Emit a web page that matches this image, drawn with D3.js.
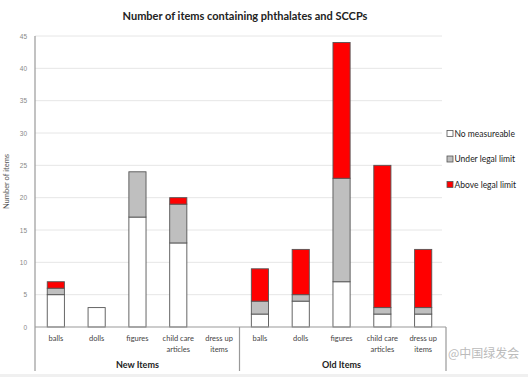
<body style="margin:0;background:#fff"></body>

<script type='text/javascript' src='https://d3js.org/d3.v7.min.js'></script>
<script>
    var width = 528, height = 377;

    // categories and series
    var items = ["balls", "dolls", "figures", "child care articles", "dress up items"];
    var groups = ["New Items", "Old Items"];
    var keys = ["none", "under", "above"];
    var legendLabels = ["No measureable", "Under legal limit", "Above legal limit"];
    var noneVals  = [5, 3, 17, 13, 0, 2, 4, 7, 2, 2];
    var underVals = [1, 0, 7, 6, 0, 2, 1, 16, 1, 1];
    var aboveVals = [1, 0, 0, 1, 0, 5, 7, 21, 22, 9];
    var yTicks = [0, 5, 10, 15, 20, 25, 30, 35, 40, 45];
    var colors = ["#ffffff", "#bfbfbf", "#ff0000"];

    var data = noneVals.map(function (v, i) {
        return {
            id: i,
            item: items[i % 5],
            group: groups[Math.floor(i / 5)],
            none: v, under: underVals[i], above: aboveVals[i]
        };
    });

    var mLeft = 35, mRight = 444, mTop = 36, mBottom = 327;

    var svg = d3.select('body').append('svg').attr('width', width).attr('height', height)
        .style('font-family', 'Lato, "Open Sans", sans-serif');

    var x = d3.scaleBand().domain(data.map(function (d) { return d.id; }))
        .range([mLeft, mRight]).paddingInner(0.58).paddingOuter(0.3);
    var y = d3.scaleLinear().domain([0, 45]).range([mBottom, mTop]);

    // gridlines
    svg.append('g').selectAll('line').data(yTicks.slice(1)).join('line')
        .attr('x1', mLeft).attr('x2', mRight - 2)
        .attr('y1', function (d) { return y(d); }).attr('y2', function (d) { return y(d); })
        .attr('stroke', '#e6e6e6').attr('stroke-width', 1);

    // y axis
    var yAxis = svg.append('g').attr('transform', 'translate(' + mLeft + ',0)')
        .call(d3.axisLeft(y).tickValues(yTicks).tickSize(0).tickPadding(8));
    yAxis.select('.domain').remove();
    yAxis.selectAll('text').attr('fill', '#888').style('font-size', '6.5px');

    svg.append('line').attr('x1', mLeft).attr('x2', mLeft).attr('y1', mTop).attr('y2', 371)
        .attr('stroke', '#999').attr('stroke-width', 1.2);

    // stacked bars
    var series = d3.stack().keys(keys)(data);
    svg.append('g').selectAll('g').data(series).join('g')
        .attr('fill', function (d, i) { return colors[i]; })
        .selectAll('rect').data(function (d) { return d.filter(function (p) { return p[1] > p[0]; }); })
        .join('rect')
        .attr('x', function (d) { return x(d.data.id); })
        .attr('width', x.bandwidth())
        .attr('y', function (d) { return y(d[1]); })
        .attr('height', function (d) { return y(d[0]) - y(d[1]); })
        .attr('stroke', '#555').attr('stroke-width', 0.9);

    // x axis baseline
    svg.append('line').attr('x1', mLeft).attr('x2', mRight + 2).attr('y1', mBottom).attr('y2', mBottom)
        .attr('stroke', '#999').attr('stroke-width', 1.2);

    // group separators
    var sep = (x(4) + x.bandwidth() + x(5)) / 2;
    [sep, mRight + 2].forEach(function (sx) {
        svg.append('line').attr('x1', sx).attr('x2', sx).attr('y1', mBottom).attr('y2', 371)
            .attr('stroke', '#999').attr('stroke-width', 1.2);
    });

    // faint bottom edge of the picture
    svg.append('rect').attr('x', 0).attr('y', 374).attr('width', width).attr('height', 3).attr('fill', '#f0f0f0');

    // category labels
    var labelLines = { "child care articles": ["child care", "articles"], "dress up items": ["dress up", "items"] };
    var cat = svg.append('g').selectAll('text').data(data).join('text')
        .attr('text-anchor', 'middle').attr('fill', '#444').style('font-size', '7.5px')
        .attr('x', function (d) { return x(d.id) + x.bandwidth() / 2; })
        .attr('y', 341);
    cat.selectAll('tspan').data(function (d) { return labelLines[d.item] || [d.item]; }).join('tspan')
        .attr('x', function () { var p = d3.select(this.parentNode).datum(); return x(p.id) + x.bandwidth() / 2; })
        .attr('dy', function (d, i) { return i ? 10.5 : 0; })
        .text(function (d) { return d; });

    // group labels
    svg.append('g').selectAll('text').data(groups).join('text')
        .attr('text-anchor', 'middle').attr('font-weight', 'bold').attr('fill', '#222').style('font-size', '9px')
        .attr('x', function (d, i) { return (x(i * 5) + x(i * 5 + 4) + x.bandwidth()) / 2; })
        .attr('y', 368)
        .text(function (d) { return d; });

    // title
    svg.append('text').attr('x', 245).attr('y', 20).attr('text-anchor', 'middle')
        .attr('font-weight', 'bold').attr('fill', '#222').style('font-size', '11px')
        .text('Number of items containing phthalates and SCCPs');

    // y axis title
    svg.append('text').attr('transform', 'translate(9,' + (mTop + mBottom) / 2 + ') rotate(-90)')
        .attr('text-anchor', 'middle').attr('fill', '#555').style('font-size', '7.5px')
        .text('Number of items');

    // legend
    var lg = svg.append('g').selectAll('g').data(legendLabels).join('g')
        .attr('transform', function (d, i) { return 'translate(456,' + (134 + i * 25.5) + ')'; });
    lg.append('rect').attr('x', -9).attr('y', -3.5).attr('width', 6).attr('height', 6)
        .attr('fill', function (d, i) { return colors[i]; }).attr('stroke', '#555').attr('stroke-width', 0.8);
    lg.append('text').attr('x', -1.5).attr('y', 2.8).attr('fill', '#222').style('font-size', '8.5px')
        .text(function (d) { return d; });

    // watermark
    svg.append('text').attr('x', 448).attr('y', 358).attr('fill', '#bbb').style('font-size', '12px')
        .style('font-family', '"Noto Sans CJK SC", sans-serif')
        .text('@中国绿发会');
</script>
